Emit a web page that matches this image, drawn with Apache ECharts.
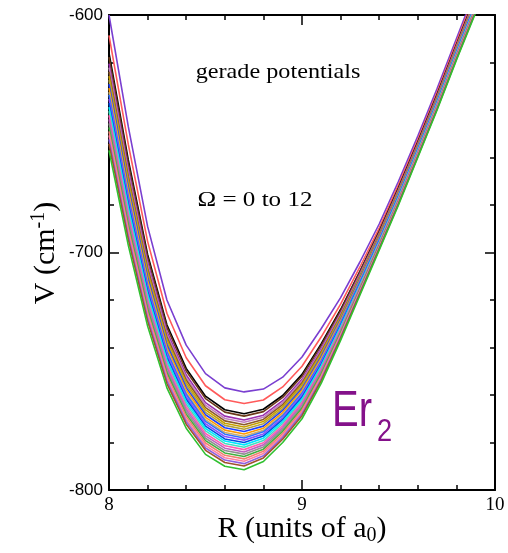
<!DOCTYPE html>
<html><head><meta charset="utf-8">
<script src="https://cdn.jsdelivr.net/npm/echarts@6/dist/echarts.min.js"></script>
<style>html,body{margin:0;padding:0;background:#fff}#c{width:508px;height:553px}</style>
</head><body><div id="c"></div>
<script>
// internuclear distance R (units of a0)
const R = [8.0, 8.1, 8.2, 8.3, 8.4, 8.5, 8.6, 8.7, 8.8, 8.9, 9.0, 9.1, 9.2, 9.3, 9.4, 9.5, 9.6, 9.7, 9.8, 9.9, 10.0];

// potential curves V (cm^-1), top (shallowest) to bottom (deepest)
const c01 = [-600, -647, -689, -720, -739, -751, -757, -758.7, -757.5, -752.5, -744, -732, -719, -704, -688, -670, -651, -631, -610, -589, -568];
const c02 = [-608.6, -654.5, -695.3, -725.6, -744.3, -756.1, -762, -763.6, -762.1, -756.6, -747.9, -735.5, -721.7, -706.1, -689.7, -671.5, -652.4, -632.4, -611.4, -590.5, -569.5];
const c03 = [-616, -661, -700.8, -730.4, -748.8, -760.5, -766.2, -767.9, -766, -760.2, -751.3, -738.4, -724, -707.9, -691.1, -672.8, -653.5, -633.5, -612.5, -591.8, -570.8];
const c04 = [-617.7, -662.5, -702, -731.5, -749.9, -761.5, -767.2, -768.9, -767, -761, -752.1, -739.1, -724.6, -708.3, -691.4, -673.1, -653.8, -633.8, -612.8, -592.1, -571.1];
const c05 = [-620.5, -665, -704.1, -733.3, -751.6, -763.2, -768.9, -770.5, -768.5, -762.4, -753.4, -740.3, -725.5, -709, -692, -673.6, -654.2, -634.2, -613.2, -592.6, -571.6];
const c06 = [-622.2, -666.5, -705.4, -734.4, -752.7, -764.3, -769.9, -771.5, -769.4, -763.2, -754.1, -741, -726, -709.5, -692.3, -673.9, -654.5, -634.5, -613.5, -592.9, -571.9];
const c07 = [-623.9, -668, -706.6, -735.5, -753.7, -765.3, -770.9, -772.5, -770.3, -764.1, -754.9, -741.7, -726.6, -709.9, -692.6, -674.2, -654.8, -634.8, -613.8, -593.2, -572.2];
const c08 = [-625.7, -669.5, -707.9, -736.7, -754.8, -766.3, -771.9, -773.5, -771.2, -764.9, -755.7, -742.4, -727.1, -710.3, -693, -674.5, -655.1, -635.1, -614.1, -593.5, -572.5];
const c09 = [-627.4, -671, -709.2, -737.8, -755.8, -767.3, -772.8, -774.4, -772.1, -765.7, -756.5, -743, -727.6, -710.7, -693.3, -674.8, -655.3, -635.3, -614.3, -593.8, -572.8];
const c10 = [-629.1, -672.5, -710.4, -738.9, -756.9, -768.3, -773.8, -775.4, -773.1, -766.5, -757.3, -743.7, -728.2, -711.1, -693.6, -675.1, -655.6, -635.6, -614.6, -594.1, -573.1];
const c11 = [-630.8, -674, -711.7, -740, -757.9, -769.4, -774.8, -776.4, -774, -767.4, -758, -744.4, -728.7, -711.6, -693.9, -675.4, -655.9, -635.9, -614.9, -594.4, -573.4];
const c12 = [-632.5, -675.5, -712.9, -741.1, -759, -770.4, -775.8, -777.4, -774.9, -768.2, -758.8, -745.1, -729.3, -712, -694.3, -675.7, -656.1, -636.1, -615.1, -594.7, -573.7];
const c13 = [-633.6, -676.5, -713.8, -741.8, -759.7, -771.1, -776.5, -778.1, -775.5, -768.7, -759.3, -745.6, -729.6, -712.3, -694.5, -675.9, -656.3, -636.3, -615.3, -594.9, -573.9];
const c14 = [-635.3, -678, -715, -742.9, -760.7, -772.1, -777.5, -779, -776.4, -769.6, -760.1, -746.3, -730.2, -712.7, -694.8, -676.2, -656.6, -636.6, -615.6, -595.2, -574.2];
const c15 = [-637.1, -679.5, -716.3, -744.1, -761.8, -773.1, -778.5, -780, -777.3, -770.4, -760.9, -747, -730.7, -713.1, -695.2, -676.5, -656.9, -636.9, -615.9, -595.5, -574.5];
const c16 = [-638.8, -681, -717.6, -745.2, -762.8, -774.1, -779.4, -781, -778.2, -771.2, -761.7, -747.6, -731.2, -713.5, -695.5, -676.8, -657.1, -637.1, -616.1, -595.8, -574.8];
const c17 = [-640.5, -682.5, -718.8, -746.3, -763.9, -775.1, -780.4, -782, -779.2, -772, -762.5, -748.3, -731.8, -713.9, -695.8, -677.1, -657.4, -637.4, -616.4, -596.1, -575.1];
const c18 = [-642.2, -684, -720.1, -747.4, -764.9, -776.2, -781.4, -783, -780.1, -772.9, -763.2, -749, -732.3, -714.4, -696.1, -677.4, -657.7, -637.7, -616.7, -596.4, -575.4];
const c19 = [-643.9, -685.5, -721.3, -748.5, -766, -777.2, -782.4, -784, -781, -773.7, -764, -749.7, -732.9, -714.8, -696.5, -677.7, -657.9, -637.9, -616.9, -596.7, -575.7];
const c20 = [-645.6, -687, -722.6, -749.6, -767, -778.2, -783.4, -784.9, -781.9, -774.5, -764.8, -750.4, -733.4, -715.2, -696.8, -678, -658.2, -638.2, -617.2, -597, -576];
const c21 = [-647.3, -688.5, -723.9, -750.7, -768.1, -779.2, -784.4, -785.9, -782.8, -775.3, -765.6, -751.1, -733.9, -715.6, -697.1, -678.3, -658.5, -638.5, -617.5, -597.3, -576.3];
const c22 = [-649, -690, -725.1, -751.8, -769.1, -780.2, -785.4, -786.9, -783.7, -776.2, -766.4, -751.8, -734.5, -716, -697.5, -678.6, -658.7, -638.7, -617.7, -597.6, -576.6];
const c23 = [-650.7, -691.5, -726.4, -752.9, -770.2, -781.3, -786.4, -787.9, -784.6, -777, -767.1, -752.5, -735, -716.5, -697.8, -678.9, -659, -639, -618, -597.9, -576.9];
const c24 = [-652.4, -693, -727.6, -754, -771.2, -782.3, -787.4, -788.9, -785.6, -777.8, -767.9, -753.2, -735.6, -716.9, -698.1, -679.2, -659.3, -639.3, -618.3, -598.2, -577.2];
const c25 = [-654.2, -694.5, -728.9, -755.2, -772.3, -783.3, -788.4, -789.9, -786.5, -778.6, -768.7, -753.9, -736.1, -717.3, -698.5, -679.5, -659.6, -639.6, -618.6, -598.5, -577.5];
const c26 = [-657, -697, -731, -757, -774, -785, -790, -791.5, -788, -780, -770, -755, -737, -718, -699, -680, -660, -640, -619, -599, -578];

const curves = [c01, c02, c03, c04, c05, c06, c07, c08, c09, c10, c11, c12, c13, c14, c15, c16, c17, c18, c19, c20, c21, c22, c23, c24, c25, c26];
const curveColors = ['#7a3fd0', '#ff5a5a', '#000000', '#6b3a1a', '#9b30b0', '#c080c0', '#8b5a2b', '#c8a000', '#b0a040', '#1e40ff', '#ff9900', '#c8b070', '#3070ff', '#8a50ff', '#0050e0', '#00e8ff', '#40e0c0', '#ff60b0', '#c060c0', '#909090', '#40b040', '#f08070', '#ff80a0', '#9060e0', '#a0522d', '#30c030'];

const xMin = 8, xMax = 10, xStep = 1;
const yMin = -800, yMax = -600, yStep = 100;

const chart = echarts.init(document.getElementById('c'), null, {renderer: 'canvas'});

function axisCommon(showLabel, isX) {
  return {
    axisLine: {show: true, onZero: false, lineStyle: {color: '#000', width: 2}},
    axisTick: {show: true, inside: true, length: 10, lineStyle: {color: '#000', width: 1.5}},
    minorTick: {show: true, splitNumber: 5, length: 5, lineStyle: {color: '#000', width: 1.5}},
    splitLine: {show: false},
    axisLabel: showLabel ? (isX ?
      {show: true, fontFamily: 'Liberation Serif', fontSize: 19, color: '#000', margin: 6} :
      {show: true, fontFamily: 'Liberation Sans', fontSize: 17, color: '#000', margin: 6}) : {show: false}
  };
}

const series = curves.map((vals, i) => ({
  type: 'line',
  xAxisIndex: 0, yAxisIndex: 0,
  data: R.map((r, j) => [r, vals[j]]),
  symbol: 'none',
  clip: true,
  lineStyle: {color: curveColors[i], width: 1.6},
  itemStyle: {color: curveColors[i]},
  z: 2
}));

chart.setOption({
  animation: false,
  backgroundColor: '#fff',
  grid: {left: 109, right: 13, top: 15, bottom: 63},
  xAxis: [
    Object.assign({type: 'value', position: 'bottom', min: xMin, max: xMax, interval: xStep}, axisCommon(true, true)),
    Object.assign({type: 'value', position: 'top', min: xMin, max: xMax, interval: xStep}, axisCommon(false, true))
  ],
  yAxis: [
    Object.assign({type: 'value', position: 'left', min: yMin, max: yMax, interval: yStep}, axisCommon(true, false)),
    Object.assign({type: 'value', position: 'right', min: yMin, max: yMax, interval: yStep}, axisCommon(false, false))
  ],
  series: series,
  graphic: [
    {type: 'text', x: 302, y: 529, z: 10, style: {
      text: '{a|R (units of a}{s|0}{a|)}', align: 'center', verticalAlign: 'middle',
      rich: {
        a: {fontFamily: 'Liberation Serif', fontSize: 30, lineHeight: 34, fill: '#000', verticalAlign: 'middle'},
        s: {fontFamily: 'Liberation Serif', fontSize: 20, lineHeight: 2, fill: '#000', verticalAlign: 'bottom'}
      }}},
    {type: 'text', x: 46, y: 253, rotation: Math.PI / 2, z: 10, style: {
      text: '{a|V (cm}{s|-1}{a|)}', align: 'center', verticalAlign: 'middle',
      rich: {
        a: {fontFamily: 'Liberation Serif', fontSize: 30, lineHeight: 34, fill: '#000', verticalAlign: 'middle'},
        s: {fontFamily: 'Liberation Serif', fontSize: 20, lineHeight: 2, fill: '#000', verticalAlign: 'top'}
      }}},
    {type: 'text', x: 278, y: 72, z: 10, scaleX: 1.1, style: {
      text: 'gerade potentials', font: '22px "Liberation Serif"', fill: '#000', align: 'center', verticalAlign: 'middle'}},
    {type: 'text', x: 255, y: 200, z: 10, scaleX: 1.14, style: {
      text: 'Ω = 0 to 12', font: '22px "Liberation Serif"', fill: '#000', align: 'center', verticalAlign: 'middle'}},
    {type: 'text', x: 332, y: 412, z: 10, scaleX: 0.8, style: {
      text: 'Er', font: '50px "Liberation Sans"', fill: '#84118a', align: 'left', verticalAlign: 'middle'}},
    {type: 'text', x: 377, y: 432, z: 10, scaleX: 0.85, style: {
      text: '2', font: '32px "Liberation Sans"', fill: '#84118a', align: 'left', verticalAlign: 'middle'}}
  ]
});
</script>
</body></html>
